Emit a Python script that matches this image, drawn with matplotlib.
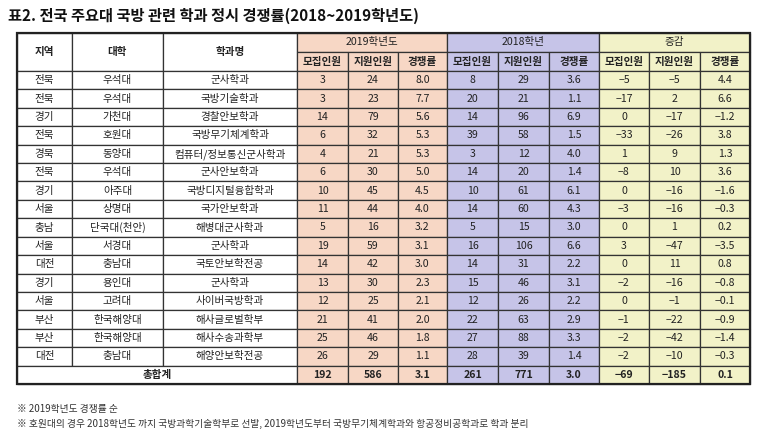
import matplotlib
matplotlib.use("Agg")
import matplotlib.pyplot as plt
from matplotlib.patches import Rectangle

plt.rcParams['font.family'] = ['Noto Sans CJK KR', 'DejaVu Sans']

title = "표2. 전국 주요대 국방 관련 학과 정시 경쟁률(2018~2019학년도)"
regions = ["전북","전북","경기","전북","경북","전북","경기","서울","충남","서울","대전","경기","서울","부산","부산","대전"]
univs = ["우석대","우석대","가천대","호원대","동양대","우석대","아주대","상명대","단국대(천안)","서경대","충남대","용인대","고려대","한국해양대","한국해양대","충남대"]
depts = ["군사학과","국방기술학과","경찰안보학과","국방무기체계학과","컴퓨터/정보통신군사학과","군사안보학과","국방디지털융합학과","국가안보학과","해병대군사학과","군사학과","국토안보학전공","군사학과","사이버국방학과","해사글로벌학부","해사수송과학부","해양안보학전공"]
r19 = [3,3,14,6,4,6,10,11,5,19,14,13,12,21,25,26]
a19 = [24,23,79,32,21,30,45,44,16,59,42,30,25,41,46,29]
c19 = ["8.0","7.7","5.6","5.3","5.3","5.0","4.5","4.0","3.2","3.1","3.0","2.3","2.1","2.0","1.8","1.1"]
r18 = [8,20,14,39,3,14,10,14,5,16,14,15,12,22,27,28]
a18 = [29,21,96,58,12,20,61,60,15,106,31,46,26,63,88,39]
c18 = ["3.6","1.1","6.9","1.5","4.0","1.4","6.1","4.3","3.0","6.6","2.2","3.1","2.2","2.9","3.3","1.4"]
dr = ["−5","−17","0","−33","1","−8","0","−3","0","3","0","−2","0","−1","−2","−2"]
da = ["−5","2","−17","−26","9","10","−16","−16","1","−47","11","−16","−1","−22","−42","−10"]
dc = ["4.4","6.6","−1.2","3.8","1.3","3.6","−1.6","−0.3","0.2","−3.5","0.8","−0.8","−0.1","−0.9","−1.4","−0.3"]
total = ["192","586","3.1","261","771","3.0","−69","−185","0.1"]
sub = ["모집인원","지원인원","경쟁률"]
groups = ["2019학년도","2018학년","증감"]
notes = ["※ 2019학년도 경쟁률 순",
         "※ 호원대의 경우 2018학년도 까지 국방과학기술학부로 선발, 2019학년도부터 국방무기체계학과와 항공정비공학과로 학과 분리"]

W, H = 764, 437
fig = plt.figure(figsize=(W/100, H/100), dpi=100)
ax = fig.add_axes([0, 0, 1, 1])
ax.set_xlim(0, W); ax.set_ylim(H, 0); ax.axis('off')

xs = [17, 72, 163, 297, 348, 398, 447, 498, 549, 599, 649, 700, 750]
y0, yh = 33, 52
yd0 = 71
rh = (384 - yd0) / 17
cols = ['#f7d7c5', '#c6c4e8', '#f2f2c8']
ink = '#222222'
fs = 7.6

ax.text(8, 16, title, fontsize=11, fontweight='bold', va='center', ha='left', color='#111')

def cell(x1, x2, y1, y2, fc, txt, bold=False, size=fs):
    ax.add_patch(Rectangle((x1, y1), x2-x1, y2-y1, facecolor=fc, edgecolor='#333', lw=0.9))
    if txt is not None:
        ax.text((x1+x2)/2, (y1+y2)/2, txt, ha='center', va='center', fontsize=size,
                color=ink, fontweight='bold' if bold else 'normal')

for i, lab in enumerate(["지역", "대학", "학과명"]):
    cell(xs[i], xs[i+1], y0, yd0, 'white', lab, bold=True)
for g in range(3):
    cell(xs[3+3*g], xs[6+3*g], y0, yh, cols[g], groups[g])
    for k in range(3):
        cell(xs[3+3*g+k], xs[4+3*g+k], yh, yd0, cols[g], sub[k], bold=True)

data_cols = [r19, a19, c19, r18, a18, c18, dr, da, dc]
for r in range(16):
    y1 = yd0 + r*rh; y2 = y1 + rh
    for i, v in enumerate([regions[r], univs[r], depts[r]]):
        cell(xs[i], xs[i+1], y1, y2, 'white', v)
    for j, col in enumerate(data_cols):
        cell(xs[3+j], xs[4+j], y1, y2, cols[j//3], str(col[r]))
y1 = yd0 + 16*rh; y2 = y1 + rh
cell(xs[0], xs[3], y1, y2, 'white', "총합계", bold=True)
for j, v in enumerate(total):
    cell(xs[3+j], xs[4+j], y1, y2, cols[j//3], v, bold=True)

ax.add_patch(Rectangle((xs[0], y0), xs[-1]-xs[0], y2-y0, fill=False, edgecolor='#222', lw=1.6))

ax.text(17, 409, notes[0], fontsize=7, va='center', color='#333')
ax.text(17, 424, notes[1], fontsize=7, va='center', color='#333')

fig.savefig("out.png", dpi=100)
